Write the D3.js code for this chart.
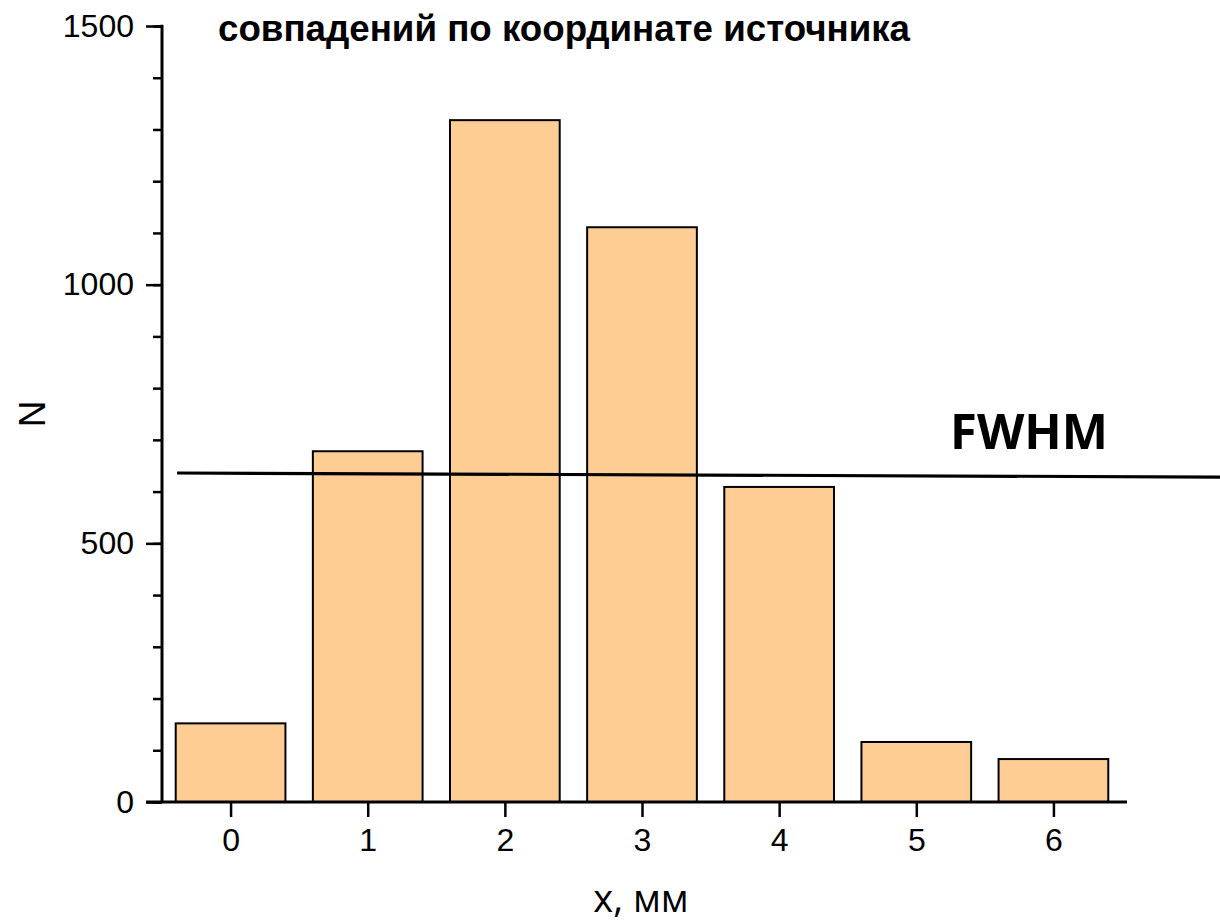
<!DOCTYPE html>
<html>
<head>
<meta charset="utf-8">
<script src="https://cdn.jsdelivr.net/npm/d3@7"></script>
<style>
  body { margin: 0; background: #fff; }
</style>
</head>
<body>
<script>
// data
const positions = [0, 1, 2, 3, 4, 5, 6];
const counts = [152, 678, 1318, 1111, 609, 116, 83];
const majorTicks = [0, 500, 1000, 1500];
const minorTicks = d3.range(0, 1501, 100);
const fwhmX = [-0.39, 7.3];
const fwhmN = [636, 628];

function main(){
    const canvasWidth = 1220;
    const canvasHeight = 923;

    const svg = d3.select("body").append("svg")
        .attr("width", canvasWidth)
        .attr("height", canvasHeight)
        .style("display", "block");

    const x = d3.scaleLinear().domain([-0.5, 6.5]).range([162, 1122]);
    const y = d3.scaleLinear().domain([0, 1500]).range([802, 26]);
    const barW = x(0.4) - x(-0.4);

    // bars
    svg.selectAll("rect.bar")
        .data(positions)
        .join("rect")
            .attr("class", "bar")
            .attr("x", (d) => x(d) - barW / 2)
            .attr("y", (d, i) => y(counts[i]))
            .attr("width", barW)
            .attr("height", (d, i) => y(0) - y(counts[i]))
            .style("fill", "#fecd94")
            .style("stroke", "#000")
            .style("stroke-width", 2);

    // y axis: minor ticks, then major ticks with labels
    const yMinor = svg.append("g")
        .attr("transform", "translate(162,0)")
        .call(d3.axisLeft(y).tickValues(minorTicks).tickSize(9).tickFormat(""));
    yMinor.select(".domain").remove();
    yMinor.selectAll("line").attr("stroke-width", 2.5);

    const yMajor = svg.append("g")
        .attr("transform", "translate(162,0)")
        .call(d3.axisLeft(y).tickValues(majorTicks).tickSize(16).tickPadding(12).tickFormat(d3.format("d")));
    yMajor.select(".domain").remove();
    yMajor.selectAll("line").attr("stroke-width", 2.5);
    yMajor.selectAll("text")
        .attr("font-family", "'Liberation Sans', Arial, sans-serif")
        .attr("font-size", "32px")
        .attr("fill", "#000");

    // x axis
    const xAxis = svg.append("g")
        .attr("transform", "translate(0,802)")
        .call(d3.axisBottom(x).tickValues(positions).tickSize(15).tickPadding(11).tickFormat(d3.format("d")));
    xAxis.select(".domain").remove();
    xAxis.selectAll("line").attr("stroke-width", 2.5);
    xAxis.selectAll("text")
        .attr("font-family", "'Liberation Sans', Arial, sans-serif")
        .attr("font-size", "32px")
        .attr("fill", "#000");

    // axis lines
    svg.append("line")
        .attr("x1", 162).attr("x2", 162)
        .attr("y1", y(1500) - 1.2).attr("y2", y(0))
        .attr("stroke", "#000").attr("stroke-width", 3);
    svg.append("line")
        .attr("x1", 146).attr("x2", 1127)
        .attr("y1", y(0)).attr("y2", y(0))
        .attr("stroke", "#000").attr("stroke-width", 3);

    // FWHM line over the bars
    svg.append("line")
        .attr("x1", x(fwhmX[0])).attr("y1", y(fwhmN[0]))
        .attr("x2", x(fwhmX[1])).attr("y2", y(fwhmN[1]))
        .attr("stroke", "#000").attr("stroke-width", 3.2);

    svg.append("text")
        .attr("x", 1029).attr("y", 449)
        .attr("text-anchor", "middle")
        .attr("font-family", "'Open Sans', sans-serif")
        .attr("font-weight", "bold")
        .attr("font-size", "49px")
        .text("FWHM");

    // title (its first line is cut off in the original)
    svg.append("text")
        .attr("x", 218).attr("y", 41)
        .attr("font-family", "'Liberation Sans', Arial, sans-serif")
        .attr("font-weight", "bold")
        .attr("font-size", "37px")
        .attr("textLength", 692)
        .attr("lengthAdjust", "spacingAndGlyphs")
        .text("совпадений по координате источника");

    // axis titles
    svg.append("text")
        .attr("x", 641).attr("y", 912)
        .attr("text-anchor", "middle")
        .attr("font-family", "'Open Sans', sans-serif")
        .attr("font-size", "38px")
        .text("x, мм");

    svg.append("text")
        .attr("transform", "translate(45,414) rotate(-90)")
        .attr("text-anchor", "middle")
        .attr("font-family", "'Liberation Sans', Arial, sans-serif")
        .attr("font-size", "37px")
        .text("N");
}
main();
</script>
</body>
</html>
